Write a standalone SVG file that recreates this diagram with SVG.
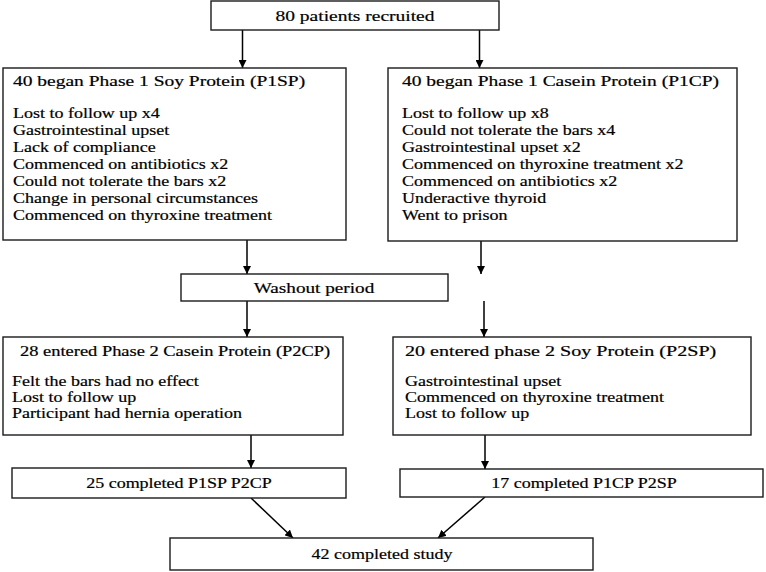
<svg xmlns="http://www.w3.org/2000/svg" width="766" height="572" viewBox="0 0 766 572">
<style>
.box{fill:#fff;stroke:#1a1a1a;stroke-width:1.4}
.ln{stroke:#000;stroke-width:1.5;fill:none;marker-end:url(#ah)}
.t{font-size:15px;stroke:#000;stroke-width:0.2}
.l{font-size:14.5px;stroke:#000;stroke-width:0.2}
.c{text-anchor:middle}
</style>
<defs>
<marker id="ah" viewBox="0 0 10 10" refX="10" refY="5" markerWidth="8" markerHeight="8" markerUnits="userSpaceOnUse" orient="auto">
<path d="M0,0 L10,5 L0,10 z" fill="#000"/>
</marker>
</defs>
<rect width="766" height="572" fill="#fff"/>
<g id="connectors">
<line class="ln" x1="242.5" y1="30" x2="242.5" y2="68"/>
<line class="ln" x1="479.5" y1="30" x2="479.5" y2="68"/>
<line class="ln" x1="247" y1="240" x2="247" y2="274"/>
<line class="ln" x1="481" y1="241" x2="481" y2="274"/>
<line class="ln" x1="247" y1="301" x2="247" y2="337"/>
<line class="ln" x1="484" y1="301" x2="484" y2="337"/>
<line class="ln" x1="251" y1="435" x2="251" y2="468"/>
<line class="ln" x1="485" y1="435" x2="485" y2="469"/>
<line class="ln" x1="251" y1="498" x2="293" y2="538"/>
<line class="ln" x1="485" y1="497" x2="438" y2="538"/>
</g>
<g id="nodes" font-family="'Liberation Serif', 'Times New Roman', 'DejaVu Serif', serif" fill="#000">
<g id="recruited">
<rect class="box" x="211" y="1" width="288" height="29"/>
<text class="t c" transform="translate(355,21) scale(1.3,1)">80 patients recruited</text>
</g>
<g id="p1sp">
<rect class="box" x="3" y="68" width="343" height="172"/>
<text class="t" transform="translate(13,86) scale(1.3,1)">40 began Phase 1 Soy Protein (P1SP)</text>
<text class="l" transform="translate(13,118) scale(1.24,1)">Lost to follow up x4</text>
<text class="l" transform="translate(13,135) scale(1.24,1)">Gastrointestinal upset</text>
<text class="l" transform="translate(13,152) scale(1.24,1)">Lack of compliance</text>
<text class="l" transform="translate(13,169) scale(1.24,1)">Commenced on antibiotics x2</text>
<text class="l" transform="translate(13,186) scale(1.24,1)">Could not tolerate the bars x2</text>
<text class="l" transform="translate(13,203) scale(1.24,1)">Change in personal circumstances</text>
<text class="l" transform="translate(13,220) scale(1.24,1)">Commenced on thyroxine treatment</text>
</g>
<g id="p1cp">
<rect class="box" x="388" y="68" width="349" height="173"/>
<text class="t" transform="translate(402,86) scale(1.3,1)">40 began Phase 1 Casein Protein (P1CP)</text>
<text class="l" transform="translate(402,118) scale(1.24,1)">Lost to follow up x8</text>
<text class="l" transform="translate(402,135) scale(1.24,1)">Could not tolerate the bars x4</text>
<text class="l" transform="translate(402,152) scale(1.24,1)">Gastrointestinal upset x2</text>
<text class="l" transform="translate(402,169) scale(1.24,1)">Commenced on thyroxine treatment x2</text>
<text class="l" transform="translate(402,186) scale(1.24,1)">Commenced on antibiotics x2</text>
<text class="l" transform="translate(402,203) scale(1.24,1)">Underactive thyroid</text>
<text class="l" transform="translate(402,220) scale(1.24,1)">Went to prison</text>
</g>
<g id="washout">
<rect class="box" x="181" y="274" width="267" height="27"/>
<text class="t c" transform="translate(314,293) scale(1.28,1)">Washout period</text>
</g>
<g id="p2cp">
<rect class="box" x="3" y="337" width="340" height="98"/>
<text class="t" transform="translate(20,356) scale(1.23,1)">28 entered Phase 2 Casein Protein (P2CP)</text>
<text class="l" transform="translate(12,386) scale(1.24,1)">Felt the bars had no effect</text>
<text class="l" transform="translate(12,402) scale(1.24,1)">Lost to follow up</text>
<text class="l" transform="translate(12,418) scale(1.24,1)">Participant had hernia operation</text>
</g>
<g id="p2sp">
<rect class="box" x="393" y="337" width="358" height="98"/>
<text class="t" transform="translate(405,356) scale(1.34,1)">20 entered phase 2 Soy Protein (P2SP)</text>
<text class="l" transform="translate(405,386) scale(1.24,1)">Gastrointestinal upset</text>
<text class="l" transform="translate(405,402) scale(1.24,1)">Commenced on thyroxine treatment</text>
<text class="l" transform="translate(405,418) scale(1.24,1)">Lost to follow up</text>
</g>
<g id="completed-p1sp-p2cp">
<rect class="box" x="12" y="468" width="334" height="30"/>
<text class="t c" transform="translate(179,488) scale(1.2,1)">25 completed P1SP P2CP</text>
</g>
<g id="completed-p1cp-p2sp">
<rect class="box" x="400" y="469" width="363" height="28"/>
<text class="t c" transform="translate(584,488) scale(1.2,1)">17 completed P1CP P2SP</text>
</g>
<g id="completed-study">
<rect class="box" x="170" y="538" width="423" height="32"/>
<text class="t c" transform="translate(382,559) scale(1.2,1)">42 completed study</text>
</g>
</g>
</svg>
